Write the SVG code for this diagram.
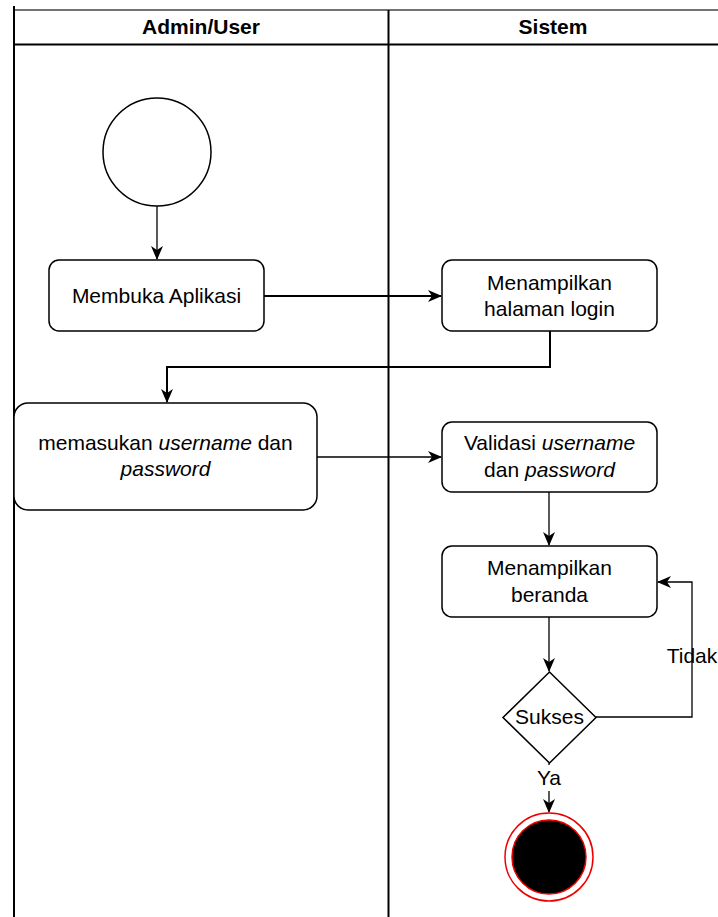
<svg xmlns="http://www.w3.org/2000/svg" width="718" height="917" viewBox="0 0 718 917">
  <style>
    text { font-family: "Liberation Sans", Arial, sans-serif; fill: #000; }
    .hdr { font-size: 21px; font-weight: bold; text-anchor: middle; }
    .lbl { font-size: 21px; text-anchor: middle; }
    .act { fill: #fff; stroke: #000; stroke-width: 1.5; }
    .edge { fill: none; stroke: #000; stroke-width: 1.3; }
    .edge-b { fill: none; stroke: #000; stroke-width: 2; }
    .lane { fill: none; stroke: #000; stroke-width: 2; }
  </style>
  <defs>
    <marker id="arrow" viewBox="0 0 14 12" refX="13" refY="6" markerWidth="14" markerHeight="12" markerUnits="userSpaceOnUse" orient="auto">
      <path d="M0,0 L14,6 L0,12 L4,6 Z" fill="#000"/>
    </marker>
  </defs>

  <rect width="718" height="917" fill="#fff"/>

  <!-- swimlanes -->
  <g id="lanes">
    <line x1="14" y1="10" x2="718" y2="10" stroke="#444" stroke-width="1.5"/>
    <line x1="14" y1="44.5" x2="718" y2="44.5" class="lane"/>
    <line x1="14" y1="6" x2="14" y2="917" class="lane"/>
    <line x1="388.5" y1="10" x2="388.5" y2="917" class="lane"/>
    <text class="hdr" x="201" y="34">Admin/User</text>
    <text class="hdr" x="553" y="34">Sistem</text>
  </g>

  <!-- connectors -->
  <g id="connectors">
    <line class="edge" x1="157" y1="206" x2="157" y2="259" marker-end="url(#arrow)"/>
    <line class="edge-b" x1="264" y1="296" x2="441" y2="296" marker-end="url(#arrow)"/>
    <polyline class="edge-b" points="550,331 550,367 167,367 167,402" marker-end="url(#arrow)"/>
    <line class="edge" x1="317" y1="457" x2="441" y2="457" marker-end="url(#arrow)"/>
    <line class="edge" x1="549" y1="492" x2="549" y2="545" marker-end="url(#arrow)"/>
    <line class="edge" x1="549" y1="617" x2="549" y2="671" marker-end="url(#arrow)"/>
    <polyline class="edge" points="596,717 692,717 692,582 658,582" marker-end="url(#arrow)"/>
    <line class="edge" x1="549" y1="763" x2="549" y2="812" marker-end="url(#arrow)"/>
    <text class="lbl" x="692" y="663">Tidak</text>
    <rect x="535" y="765" width="28" height="26" fill="#fff"/>
    <text class="lbl" x="549" y="785">Ya</text>
  </g>

  <!-- start -->
  <g id="start">
    <circle cx="157" cy="152" r="54" fill="#fff" stroke="#000" stroke-width="1.5"/>
  </g>

  <g id="buka-aplikasi">
    <rect class="act" x="49" y="260" width="215" height="71" rx="10"/>
    <text class="lbl" x="156.5" y="302.5">Membuka Aplikasi</text>
  </g>

  <g id="halaman-login">
    <rect class="act" x="442" y="260" width="215" height="71" rx="10"/>
    <text class="lbl" x="549.5" y="290">Menampilkan</text>
    <text class="lbl" x="549.5" y="316">halaman login</text>
  </g>

  <g id="input-login">
    <rect class="act" x="14" y="403" width="303" height="107" rx="14"/>
    <text class="lbl" x="165.5" y="450">memasukan <tspan font-style="italic">username</tspan> dan</text>
    <text class="lbl" x="165.5" y="476" font-style="italic">password</text>
  </g>

  <g id="validasi">
    <rect class="act" x="442" y="422" width="215" height="70" rx="10"/>
    <text class="lbl" x="549.5" y="450">Validasi <tspan font-style="italic">username</tspan></text>
    <text class="lbl" x="549.5" y="477">dan <tspan font-style="italic">password</tspan></text>
  </g>

  <g id="beranda">
    <rect class="act" x="442" y="546" width="215" height="71" rx="10"/>
    <text class="lbl" x="549.5" y="575">Menampilkan</text>
    <text class="lbl" x="549.5" y="602">beranda</text>
  </g>

  <g id="sukses">
    <polygon points="549.5,672 596,717.5 549.5,763 503,717.5" fill="#fff" stroke="#000" stroke-width="1.5"/>
    <text class="lbl" x="549.5" y="723.5">Sukses</text>
  </g>

  <g id="end">
    <circle cx="549" cy="857" r="44" fill="#fff" stroke="#e00" stroke-width="1.5"/>
    <circle cx="549" cy="857" r="37" fill="#000" stroke="#e00" stroke-width="1.5"/>
  </g>
</svg>
